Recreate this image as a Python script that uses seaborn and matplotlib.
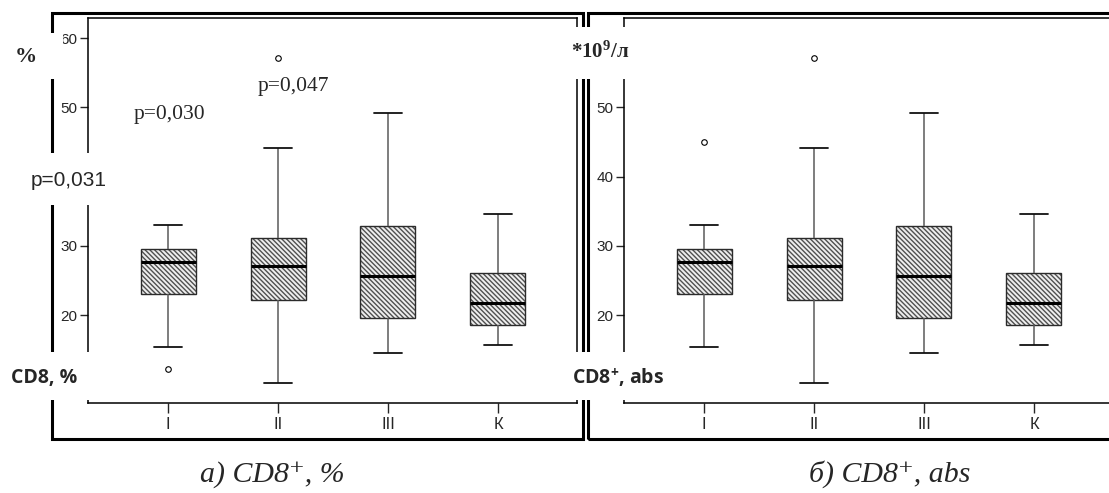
import matplotlib
matplotlib.use("Agg")
import matplotlib.pyplot as plt
import matplotlib.colors as mcolors
from matplotlib.patches import Rectangle
import pandas as pd
import seaborn as sns

# groups on the x axis
groups = ["I", "II", "III", "К"]

# a) CD8+, %  -- five-number summaries
pct_lo = [15.4, 10.1, 14.5, 15.6]
pct_q1 = [23.0, 22.1, 19.6, 18.5]
pct_med = [27.6, 27.1, 25.7, 21.7]
pct_q3 = [29.6, 31.1, 32.8, 26.0]
pct_hi = [33.0, 44.1, 49.2, 34.6]
pct_out = [[12.2], [57.1], [], []]
pct_yticks = [20, 30, 50, 60]

# б) CD8+, abs
abs_lo = [15.4, 10.1, 14.5, 15.6]
abs_q1 = [23.0, 22.1, 19.6, 18.5]
abs_med = [27.6, 27.1, 25.7, 21.7]
abs_q3 = [29.6, 31.1, 32.8, 26.0]
abs_hi = [33.0, 44.1, 49.2, 34.6]
abs_out = [[45.0], [57.1], [], []]
abs_yticks = [20, 30, 40, 50]


def long_frame(lo, q1, med, q3, hi, out):
    # 9 values per group so that numpy's quartiles land exactly on q1/med/q3
    rows = []
    for g, a, b, c, d, e, o in zip(groups, lo, q1, med, q3, hi, out):
        below = [v for v in o if v < b]
        above = [v for v in o if v > d]
        vals = below + [a] * (2 - len(below)) + [b, b, c, d, d] + [e] * (2 - len(above)) + above
        rows += [(g, v) for v in vals]
    return pd.DataFrame(rows, columns=["group", "value"])


sns.set_style("ticks")
plt.rcParams["font.family"] = ["Liberation Sans", "DejaVu Sans"]
plt.rcParams["hatch.linewidth"] = 1.0
plt.rcParams["mathtext.fontset"] = "custom"
plt.rcParams["mathtext.rm"] = "Liberation Serif"
plt.rcParams["mathtext.it"] = "Liberation Serif:italic"
plt.rcParams["mathtext.bf"] = "Liberation Serif:bold"
plt.rcParams["mathtext.sf"] = "Open Sans:bold"

W, H = 1109, 493
fig = plt.figure(figsize=(W / 100, H / 100), dpi=100)
fig.patch.set_facecolor("white")


def fx(x):
    return x / W


def fy(y):
    return 1 - y / H


def panel(left_px, df, yticks):
    ax = fig.add_axes([fx(left_px), fy(403), 488.4 / W, (403 - 18.3) / H])
    sns.boxplot(data=df, x="group", y="value", order=groups, ax=ax, width=0.5,
                color="#eeeeee", saturation=1, linecolor="#2b2b2b", linewidth=1.0, fliersize=4,
                whiskerprops=dict(color="#5a5a5a", linewidth=1.1),
                capprops=dict(color="#111111", linewidth=1.3),
                medianprops=dict(color="black", linewidth=2.2),
                flierprops=dict(marker="o", markerfacecolor="white",
                                markeredgecolor="black", markeredgewidth=0.8))
    for p in ax.patches:
        p.set_hatch("\\" * 7)
        p._hatch_color = mcolors.to_rgba("#505050")
    ax.set_xlim(-0.725, 3.716)
    ax.set_ylim(7.28, 62.89)
    ax.set_yticks(yticks)
    ax.set_xlabel("")
    ax.set_ylabel("")
    for s in ax.spines.values():
        s.set_visible(True)
        s.set_linewidth(1.1)
        s.set_color("black")
    ax.tick_params(axis="y", length=6, width=1, pad=2, labelsize=11)
    ax.tick_params(axis="x", length=7, width=1, pad=3, labelsize=12)
    return ax


panel(88.3, long_frame(pct_lo, pct_q1, pct_med, pct_q3, pct_hi, pct_out), pct_yticks)
panel(624.3, long_frame(abs_lo, abs_q1, abs_med, abs_q3, abs_hi, abs_out), abs_yticks)


def frame(x0, y0, x1, y1):
    fig.add_artist(Rectangle((fx(x0), fy(y1)), (x1 - x0) / W, (y1 - y0) / H,
                             fill=False, edgecolor="black", linewidth=2.2,
                             transform=fig.transFigure, zorder=2))


def white(x0, y0, x1, y1):
    fig.add_artist(Rectangle((fx(x0), fy(y1)), (x1 - x0) / W, (y1 - y0) / H,
                             facecolor="white", edgecolor="none",
                             transform=fig.transFigure, zorder=5))


frame(52.3, 13.3, 583.3, 438.5)
frame(588.3, 13.3, 1125, 438.5)

# label patches that cut through the frames
white(0, 33, 63, 79)
white(20, 153, 115, 205)
white(4, 352, 96, 400)
white(566, 27, 632, 79)
white(566, 352, 670, 400)

kw = dict(ha="center", va="center", zorder=6)
fig.text(fx(26), fy(57), "%", family="Liberation Serif", weight="bold", size=16, **kw)
fig.text(fx(600), fy(52), r"*1$\mathbf{0}^{\mathbf{9}}$/л", family="Liberation Serif",
         weight="bold", size=15, **kw)
fig.text(fx(69), fy(181), "p=0,031", family="Liberation Sans", size=15, **kw)
fig.text(fx(44), fy(378), "CD8, %", family="Open Sans", weight="bold", size=14, **kw)
fig.text(fx(618), fy(378), r"CD$\mathsf{8}^{\mathsf{+}}$, abs", family="Open Sans",
         weight="bold", size=14, **kw)
fig.text(fx(169), fy(114), "p=0,030", family="Liberation Serif", size=15.5, **kw)
fig.text(fx(293), fy(87), "p=0,047", family="Liberation Serif", size=15.5, **kw)

tkw = dict(ha="center", va="baseline", family=["Liberation Serif", "DejaVu Serif"],
           style="italic", size=21.5, zorder=6)
fig.text(fx(272), fy(482), "а) CD8⁺, %", **tkw)
fig.text(fx(890), fy(482), "б) CD8⁺, abs", **tkw)

fig.savefig("out.png", dpi=100, facecolor="white")
